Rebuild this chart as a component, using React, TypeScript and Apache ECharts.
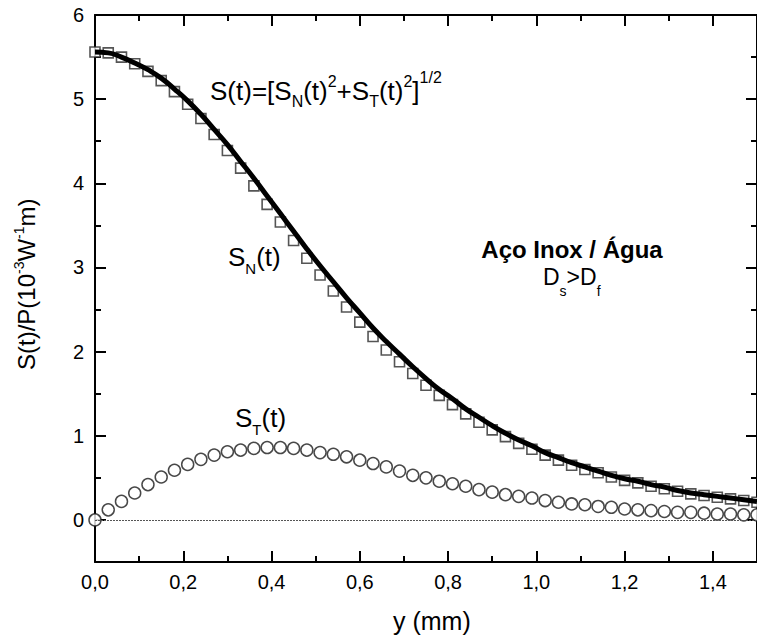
import React, { useEffect, useRef } from "react";
import * as echarts from "echarts";

// Position along y (mm) of every sampled point
const positionsMm = [
  0.0, 0.03, 0.06, 0.09, 0.12, 0.15, 0.18, 0.21, 0.24, 0.27, 0.3, 0.33, 0.36,
  0.39, 0.42, 0.45, 0.48, 0.51, 0.54, 0.57, 0.6, 0.63, 0.66, 0.69, 0.72, 0.75,
  0.78, 0.81, 0.84, 0.87, 0.9, 0.93, 0.96, 0.99, 1.02, 1.05, 1.08, 1.11, 1.14,
  1.17, 1.2, 1.23, 1.26, 1.29, 1.32, 1.35, 1.38, 1.41, 1.44, 1.47, 1.5,
];

// S_N(t) – squares
const sNormal = [
  5.56, 5.55, 5.5, 5.42, 5.33, 5.22, 5.09, 4.94, 4.77, 4.58, 4.39, 4.18, 3.97,
  3.75, 3.54, 3.32, 3.11, 2.91, 2.72, 2.53, 2.35, 2.18, 2.02, 1.88, 1.74, 1.6,
  1.48, 1.37, 1.26, 1.16, 1.07, 0.99, 0.91, 0.84, 0.77, 0.71, 0.65, 0.6, 0.56,
  0.51, 0.47, 0.44, 0.4, 0.37, 0.34, 0.31, 0.29, 0.27, 0.25, 0.23, 0.21,
];

// S_T(t) – circles
const sTangential = [
  0.0, 0.12, 0.22, 0.32, 0.42, 0.51, 0.59, 0.66, 0.72, 0.77, 0.81, 0.83, 0.85,
  0.86, 0.86, 0.85, 0.83, 0.8, 0.78, 0.75, 0.71, 0.67, 0.63, 0.58, 0.53, 0.5,
  0.46, 0.43, 0.4, 0.36, 0.33, 0.3, 0.28, 0.26, 0.23, 0.21, 0.19, 0.18, 0.16,
  0.15, 0.13, 0.12, 0.11, 0.1, 0.09, 0.09, 0.08, 0.07, 0.07, 0.06, 0.06,
];

// S(t) – thick solid line
const sTotal = [
  5.56, 5.55, 5.5, 5.43, 5.35, 5.25, 5.12, 4.98, 4.82, 4.64, 4.46, 4.26, 4.06,
  3.85, 3.64, 3.43, 3.22, 3.02, 2.83, 2.64, 2.46, 2.28, 2.12, 1.97, 1.82, 1.68,
  1.55, 1.44, 1.32, 1.22, 1.12, 1.03, 0.95, 0.88, 0.8, 0.74, 0.68, 0.63, 0.58,
  0.53, 0.49, 0.46, 0.42, 0.39, 0.35, 0.32, 0.3, 0.28, 0.26, 0.24, 0.22,
];

const yLabelValues = [0, 1, 2, 3, 4, 5, 6];
const baselineValue = [0];

const X_MIN = 0;
const X_MAX = 1.5;
const Y_MIN = -0.5;
const Y_MAX = 6;

const FONT = '"Liberation Sans", Arial, Helvetica, sans-serif';

let measureCtx: CanvasRenderingContext2D | null = null;
function measureWidth(text: string, size: number, weight: string) {
  if (!measureCtx) {
    measureCtx = document.createElement("canvas").getContext("2d");
  }
  if (!measureCtx) return text.length * size * 0.55;
  measureCtx.font = `${weight} ${size}px ${FONT}`;
  return measureCtx.measureText(text).width;
}

type Seg = { text: string; size: number; dy?: number };

function textRun(
  segs: Seg[],
  x: number,
  baseline: number,
  opt: { weight?: string; center?: boolean; rotate?: boolean } = {}
) {
  const weight = opt.weight || "normal";
  let cursor = 0;
  const children: any[] = segs.map((s) => {
    const el = {
      type: "text",
      x: cursor,
      y: (s.dy || 0) - 0.3465 * s.size,
      silent: true,
      style: {
        text: s.text,
        fontSize: s.size,
        fontFamily: FONT,
        fontWeight: weight,
        fill: "#000",
        align: "left",
        verticalAlign: "middle",
      },
    };
    cursor += measureWidth(s.text, s.size, weight);
    return el;
  });
  if (opt.center) {
    const off = -cursor / 2;
    children.forEach((c) => (c.x += off));
  }
  return {
    type: "group",
    x,
    y: baseline,
    rotation: opt.rotate ? Math.PI / 2 : 0,
    children,
  };
}

const axisColor = "#000";

function xAxisDef(position: "top" | "bottom", interval: number, tickLen: number, major: boolean) {
  return {
    type: "value",
    position,
    min: X_MIN,
    max: X_MAX,
    interval,
    axisLine: {
      show: major,
      onZero: false,
      lineStyle: { color: axisColor, width: 2 },
    },
    axisTick: {
      show: true,
      inside: true,
      length: tickLen,
      lineStyle: { color: axisColor, width: 2 },
    },
    axisLabel: {
      show: major && position === "bottom",
      showMaxLabel: false,
      margin: 10,
      fontSize: 20,
      fontFamily: FONT,
      color: "#000",
      formatter: (v: number) => v.toFixed(1).replace(".", ","),
    },
    splitLine: { show: false },
  };
}

function yAxisDef(position: "left" | "right", major: boolean) {
  return {
    type: "value",
    position,
    min: Y_MIN,
    max: Y_MAX,
    interval: 0.5,
    axisLine: {
      show: major,
      onZero: false,
      lineStyle: { color: axisColor, width: 2 },
    },
    axisTick: major
      ? {
          show: true,
          inside: true,
          length: 11,
          customValues: yLabelValues,
          lineStyle: { color: axisColor, width: 2 },
        }
      : {
          show: true,
          inside: true,
          length: 6,
          lineStyle: { color: axisColor, width: 2 },
        },
    axisLabel: {
      show: major && position === "left",
      customValues: yLabelValues,
      margin: 11,
      fontSize: 20,
      fontFamily: FONT,
      color: "#000",
      formatter: (v: number) => String(v),
    },
    splitLine: { show: false },
  };
}

export default function App() {
  const ref = useRef<HTMLDivElement>(null);

  useEffect(() => {
    if (!ref.current) return;
    const chart = echarts.init(ref.current, null, { renderer: "svg" });

    const sq = positionsMm.map((x, i) => [x, sNormal[i]]);
    const ci = positionsMm.map((x, i) => [x, sTangential[i]]);
    const li = positionsMm.map((x, i) => [x, sTotal[i]]);

    const option: any = {
      animation: false,
      backgroundColor: "#fff",
      grid: { left: 95, right: -8, top: 15, bottom: 76, containLabel: false },
      xAxis: [
        xAxisDef("bottom", 0.2, 11, true),
        xAxisDef("bottom", 0.1, 6, false),
        xAxisDef("top", 0.2, 11, true),
        xAxisDef("top", 0.1, 6, false),
      ],
      yAxis: [
        yAxisDef("left", true),
        yAxisDef("left", false),
        yAxisDef("right", true),
        yAxisDef("right", false),
      ],
      series: [
        {
          name: "baseline",
          type: "line",
          data: [],
          xAxisIndex: 0,
          yAxisIndex: 0,
          markLine: {
            silent: true,
            symbol: "none",
            label: { show: false },
            lineStyle: { color: "#555", width: 1, type: [2, 1] },
            data: baselineValue.map((v) => ({ yAxis: v })),
          },
          z: 1,
        },
        {
          name: "S_N(t)",
          type: "scatter",
          data: sq,
          xAxisIndex: 0,
          yAxisIndex: 0,
          symbol: "rect",
          symbolSize: 10,
          itemStyle: { color: "#fff", borderColor: "#2a2a2a", borderWidth: 1.6 },
          z: 2,
        },
        {
          name: "S(t)",
          type: "line",
          data: li,
          xAxisIndex: 0,
          yAxisIndex: 0,
          smooth: true,
          showSymbol: false,
          symbol: "none",
          lineStyle: { color: "#000", width: 5 },
          z: 3,
        },
        {
          name: "S_T(t)",
          type: "scatter",
          data: ci,
          xAxisIndex: 0,
          yAxisIndex: 0,
          symbol: "circle",
          symbolSize: 12,
          itemStyle: { color: "#fff", borderColor: "#1a1a1a", borderWidth: 1.5 },
          z: 4,
        },
      ],
      graphic: [
        textRun(
          [
            { text: "S(t)=[S", size: 26 },
            { text: "N", size: 16, dy: 7 },
            { text: "(t)", size: 26 },
            { text: "2", size: 16, dy: -13 },
            { text: "+S", size: 26 },
            { text: "T", size: 16, dy: 7 },
            { text: "(t)", size: 26 },
            { text: "2", size: 16, dy: -13 },
            { text: "]", size: 26 },
            { text: "1/2", size: 16, dy: -17 },
          ],
          210,
          100
        ),
        textRun(
          [
            { text: "S", size: 26 },
            { text: "N", size: 15, dy: 8 },
            { text: "(t)", size: 26 },
          ],
          228,
          266
        ),
        textRun(
          [
            { text: "S", size: 26 },
            { text: "T", size: 15, dy: 8 },
            { text: "(t)", size: 26 },
          ],
          235,
          427
        ),
        textRun([{ text: "Aço Inox / Água", size: 24 }], 572, 258, {
          weight: "bold",
          center: true,
        }),
        textRun(
          [
            { text: "D", size: 23 },
            { text: "s", size: 14, dy: 11 },
            { text: ">D", size: 23 },
            { text: "f", size: 14, dy: 11 },
          ],
          543,
          285
        ),
        textRun(
          [
            { text: "S(t)/P(10", size: 24 },
            { text: "-3", size: 14, dy: -11 },
            { text: "W", size: 24 },
            { text: "-1", size: 14, dy: -11 },
            { text: "m)", size: 24 },
          ],
          35,
          370,
          { rotate: true }
        ),
        textRun([{ text: "y (mm)", size: 25 }], 393, 630),
      ],
    };

    chart.setOption(option);
    return () => chart.dispose();
  }, []);

  return (
    <div
      ref={ref}
      style={{
        position: "absolute",
        left: 0,
        top: 0,
        width: 757,
        height: 638,
        background: "#fff",
      }}
    />
  );
}
